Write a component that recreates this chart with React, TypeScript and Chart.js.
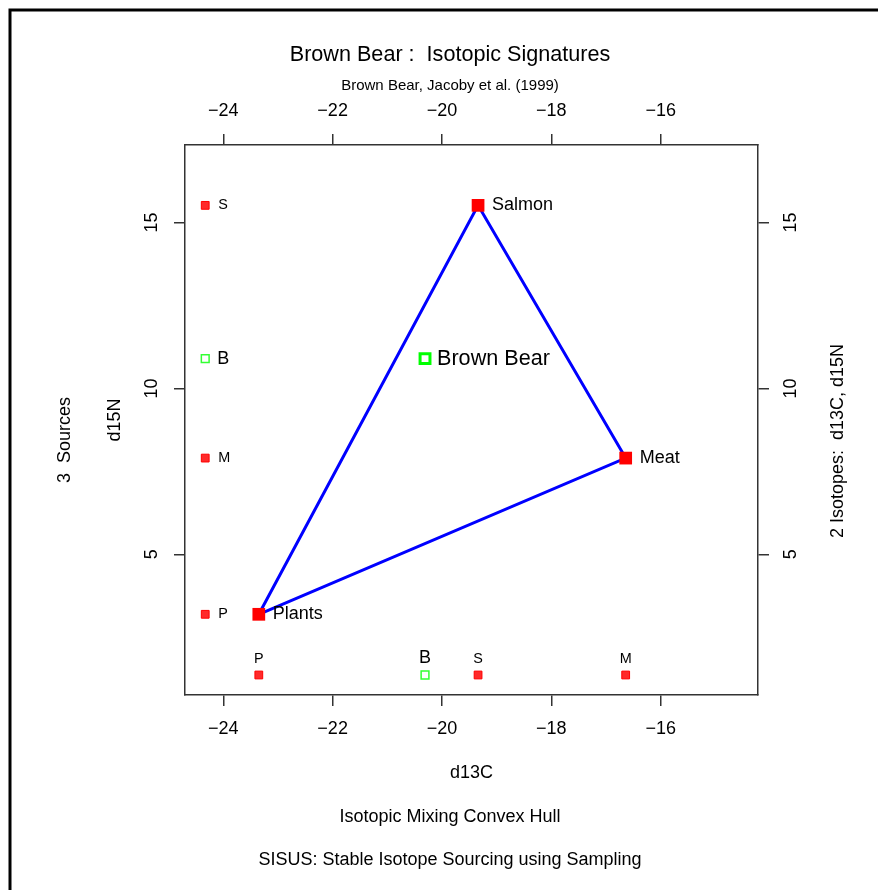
import React, { useEffect, useRef } from 'react';
import { Chart, registerables } from 'chart.js';

Chart.register(...registerables);

// ---- data ----
const sourceNames = ['Plants', 'Salmon', 'Meat'];
const sourceCodes = ['P', 'S', 'M'];
const sourceD13C = [-23.35, -19.34, -16.64];
const sourceD15N = [3.19, 15.52, 7.9];
const consumerNames = ['Brown Bear'];
const consumerCodes = ['B'];
const consumerD13C = [-20.31];
const consumerD15N = [10.9];
const hullOrder = [0, 1, 2, 0];
const marginD13C = -24.33; // where the d15N strip sits
const marginD15N = 1.36; // where the d13C strip sits
const xTicks = [-24, -22, -20, -18, -16];
const yTicks = [5, 10, 15];
const xRange = [-24.7, -14.22];
const yRange = [0.757, 17.34];

const titleText = 'Brown Bear :  Isotopic Signatures';
const subtitleText = 'Brown Bear, Jacoby et al. (1999)';
const xLabel = 'd13C';
const yLabel = 'd15N';
const leftOuter = '3  Sources';
const rightOuter = '2 Isotopes:  d13C, d15N';
const bottom1 = 'Isotopic Mixing Convex Hull';
const bottom2 = 'SISUS: Stable Isotope Sourcing using Sampling';

const FONT = '"Liberation Sans", Arial, Helvetica, sans-serif';
const fmt = (v: number) => (v < 0 ? '\u2212' + Math.abs(v) : String(v));

const textPlugin = {
  id: 'textPlugin',
  beforeDraw(chart: any) {
    const ctx = chart.ctx;
    ctx.save();
    ctx.fillStyle = '#ffffff';
    ctx.fillRect(0, 0, chart.width, chart.height);
    ctx.strokeStyle = '#000000';
    ctx.lineWidth = 3;
    ctx.strokeRect(10, 10, 900, 900);
    ctx.restore();
  },
  afterDraw(chart: any) {
    const ctx = chart.ctx;
    const xs = chart.scales.x;
    const ys = chart.scales.y;
    ctx.save();
    ctx.fillStyle = '#000000';
    ctx.textBaseline = 'middle';

    const put = (t: string, x: number, y: number, size: number, align: CanvasTextAlign = 'center', rot = 0) => {
      ctx.save();
      ctx.font = `${size}px ${FONT}`;
      ctx.textAlign = align;
      ctx.translate(x, y);
      if (rot) ctx.rotate(rot);
      ctx.fillText(t, 0, 0);
      ctx.restore();
    };

    put(titleText, 450, 55, 21.6);
    put(subtitleText, 450, 86, 15);
    put(xLabel, 471.5, 773, 18);
    put(bottom1, 450, 817, 18);
    put(bottom2, 450, 860, 18);
    put(leftOuter, 65, 440, 18, 'center', -Math.PI / 2);
    put(yLabel, 115, 420, 18, 'center', -Math.PI / 2);
    put(rightOuter, 838, 441, 18, 'center', -Math.PI / 2);

    // y tick labels (rotated, R style)
    yTicks.forEach((v) => {
      const py = ys.getPixelForValue(v);
      put(fmt(v), ys.left + ys.width - 33, py, 18, 'center', -Math.PI / 2);
      put(fmt(v), chart.scales.y2.left + 33, py, 18, 'center', -Math.PI / 2);
    });

    // main labels
    sourceNames.forEach((n, i) => {
      put(n, xs.getPixelForValue(sourceD13C[i]) + 14, ys.getPixelForValue(sourceD15N[i]), 18, 'left');
    });
    consumerNames.forEach((n, i) => {
      put(n, xs.getPixelForValue(consumerD13C[i]) + 12, ys.getPixelForValue(consumerD15N[i]), 21.6, 'left');
    });

    // marginal strip labels
    const mx = xs.getPixelForValue(marginD13C);
    const my = ys.getPixelForValue(marginD15N);
    sourceCodes.forEach((c, i) => {
      put(c, mx + 13, ys.getPixelForValue(sourceD15N[i]), 14.4, 'left');
      put(c, xs.getPixelForValue(sourceD13C[i]), my - 16, 14.4, 'center');
    });
    consumerCodes.forEach((c, i) => {
      put(c, mx + 12, ys.getPixelForValue(consumerD15N[i]), 18, 'left');
      put(c, xs.getPixelForValue(consumerD13C[i]), my - 17, 18, 'center');
    });
    ctx.restore();
  },
};

const axisColor = '#333333';

function xAxis(position: 'top' | 'bottom', size: number) {
  return {
    type: 'linear' as const,
    axis: 'x' as const,
    position,
    min: xRange[0],
    max: xRange[1],
    afterBuildTicks: (s: any) => {
      s.ticks = xTicks.map((v) => ({ value: v }));
    },
    afterFit: (s: any) => {
      s.height = size;
    },
    ticks: {
      callback: (v: any) => fmt(Number(v)),
      font: { size: 18, family: FONT },
      color: '#000000',
      padding: 12,
      maxRotation: 0,
      minRotation: 0,
      autoSkip: false,
    },
    grid: { drawOnChartArea: false, drawTicks: true, tickLength: 11, color: axisColor, lineWidth: 1.5 },
    border: { display: true, color: axisColor, width: 1.5 },
  };
}

function yAxis(position: 'left' | 'right', size: number) {
  return {
    type: 'linear' as const,
    axis: 'y' as const,
    position,
    min: yRange[0],
    max: yRange[1],
    afterBuildTicks: (s: any) => {
      s.ticks = yTicks.map((v) => ({ value: v }));
    },
    afterFit: (s: any) => {
      s.width = size;
    },
    ticks: { display: false },
    grid: { drawOnChartArea: false, drawTicks: true, tickLength: 11, color: axisColor, lineWidth: 1.5 },
    border: { display: true, color: axisColor, width: 1.5 },
  };
}

export default function App() {
  const ref = useRef<HTMLCanvasElement | null>(null);
  useEffect(() => {
    if (!ref.current) return;
    const srcPts = sourceD13C.map((x, i) => ({ x, y: sourceD15N[i] }));
    const conPts = consumerD13C.map((x, i) => ({ x, y: consumerD15N[i] }));
    const hullPts = hullOrder.map((i) => ({ x: sourceD13C[i], y: sourceD15N[i] }));
    const chart = new Chart(ref.current, {
      type: 'scatter',
      data: {
        datasets: [
          {
            label: 'sources',
            data: srcPts,
            pointStyle: 'rect',
            pointRadius: 9,
            backgroundColor: '#ff0000',
            borderColor: '#ff0000',
            borderWidth: 0,
          },
          {
            label: 'consumer',
            data: conPts,
            pointStyle: 'rect',
            pointRadius: 7,
            backgroundColor: '#ffffff',
            borderColor: '#00ff00',
            borderWidth: 3,
          },
          {
            label: 'sources d15N strip',
            data: sourceD15N.map((y) => ({ x: marginD13C, y })),
            pointStyle: 'rect',
            pointRadius: 5.5,
            backgroundColor: '#ff2a2a',
            borderColor: '#ff0000',
            borderWidth: 1,
          },
          {
            label: 'consumer d15N strip',
            data: consumerD15N.map((y) => ({ x: marginD13C, y })),
            pointStyle: 'rect',
            pointRadius: 5.5,
            backgroundColor: '#ffffff',
            borderColor: '#33ff33',
            borderWidth: 1.5,
          },
          {
            label: 'sources d13C strip',
            data: sourceD13C.map((x) => ({ x, y: marginD15N })),
            pointStyle: 'rect',
            pointRadius: 5.5,
            backgroundColor: '#ff2a2a',
            borderColor: '#ff0000',
            borderWidth: 1,
          },
          {
            label: 'consumer d13C strip',
            data: consumerD13C.map((x) => ({ x, y: marginD15N })),
            pointStyle: 'rect',
            pointRadius: 5.5,
            backgroundColor: '#ffffff',
            borderColor: '#33ff33',
            borderWidth: 1.5,
          },
          {
            label: 'hull',
            data: hullPts,
            showLine: true,
            pointRadius: 0,
            borderColor: '#0000ff',
            borderWidth: 3,
            backgroundColor: '#0000ff',
          },
        ],
      },
      options: {
        responsive: false,
        animation: false,
        layout: { padding: 0 },
        plugins: { legend: { display: false }, tooltip: { enabled: false }, title: { display: false } },
        scales: {
          x: xAxis('bottom', 195),
          x2: xAxis('top', 145),
          y: yAxis('left', 185),
          y2: yAxis('right', 120),
        } as any,
      },
      plugins: [textPlugin],
    });
    return () => chart.destroy();
  }, []);
  return (
    <div style={{ position: 'absolute', left: 0, top: 0, width: 878, height: 890 }}>
      <canvas ref={ref} width={878} height={890} style={{ display: 'block' }} />
    </div>
  );
}
